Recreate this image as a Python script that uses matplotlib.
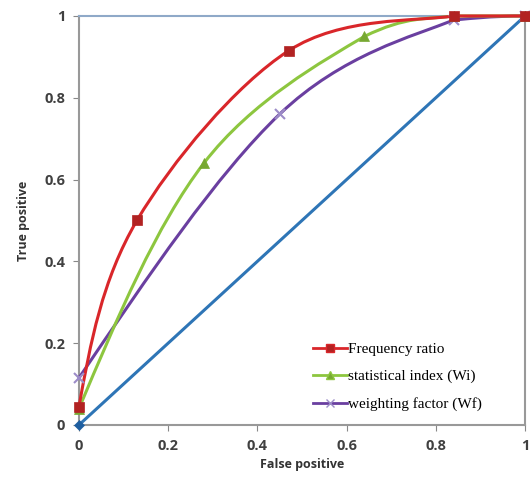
import numpy as np
import matplotlib
matplotlib.use("Agg")
import matplotlib.pyplot as plt
from matplotlib.path import Path
from matplotlib.patches import PathPatch
from matplotlib.lines import Line2D

fr_x = [0, 0.13, 0.47, 0.84, 1.0]
fr_y = [0.045, 0.50, 0.915, 1.0, 1.0]
si_x = [0, 0.28, 0.64, 0.84, 1.0]
si_y = [0.04, 0.64, 0.95, 1.0, 1.0]
wf_x = [0, 0.45, 0.84, 1.0]
wf_y = [0.115, 0.76, 0.99, 1.0]
ref_x = [0, 1]
ref_y = [0, 1]

labels = ["Frequency ratio", "statistical index (Wi)", "weighting factor (Wf)"]
ticks = [0, 0.2, 0.4, 0.6, 0.8, 1]
tick_labels = ["0", "0.2", "0.4", "0.6", "0.8", "1"]

fig = plt.figure(figsize=(5.3, 4.84), dpi=100)
ax = fig.add_axes([0.149, 0.122, 0.8416, 0.845])


def smooth_path(xs, ys):
    P = np.column_stack([xs, ys]).astype(float)
    n = len(P)
    if n == 2:
        return Path(P, [Path.MOVETO, Path.LINETO])
    segs = []
    for i in range(n - 1):
        c1 = P[i] + (P[i + 1] - P[i - 1]) / 6.0 if i > 0 else None
        c2 = P[i + 1] - (P[i + 2] - P[i]) / 6.0 if i + 2 < n else None
        segs.append([c1, c2])
    # quadratic-like end conditions
    segs[0][0] = P[0] + (segs[0][1] - P[0]) / 2.0
    segs[-1][1] = P[-1] + (segs[-1][0] - P[-1]) / 2.0
    verts = [P[0]]
    codes = [Path.MOVETO]
    for i, (c1, c2) in enumerate(segs):
        lo = min(P[i][1], P[i + 1][1])
        hi = max(P[i][1], P[i + 1][1])
        c1 = np.array([c1[0], np.clip(c1[1], lo, hi)])
        c2 = np.array([c2[0], np.clip(c2[1], lo, hi)])
        verts += [c1, c2, P[i + 1]]
        codes += [Path.CURVE4] * 3
    return Path(verts, codes)


series = [
    (ref_x, ref_y, "#2E75B6", "#1F5FA0", "D", 5),
    (wf_x, wf_y, "#6A3FA0", "#9C8CC8", "x", 7),
    (si_x, si_y, "#8DC63F", "#77A832", "^", 7),
    (fr_x, fr_y, "#D9262A", "#B22222", "s", 7),
]
for xs, ys, lc, mc, mk, ms in series:
    patch = PathPatch(smooth_path(xs, ys), facecolor="none", edgecolor=lc,
                      lw=2.2, clip_on=False, zorder=3)
    ax.add_patch(patch)
    ax.plot(xs, ys, linestyle="none", marker=mk, color=mc, markersize=ms,
            markeredgewidth=1.5 if mk == "x" else 0.5, clip_on=False, zorder=4)

ax.set_xlim(0, 1)
ax.set_ylim(0, 1)
ax.set_xticks(ticks)
ax.set_xticklabels(tick_labels)
ax.set_yticks(ticks)
ax.set_yticklabels(tick_labels)
for lab in ax.get_xticklabels() + ax.get_yticklabels():
    lab.set_fontfamily("Open Sans")
    lab.set_fontweight("bold")
    lab.set_fontsize(10.5)
    lab.set_color("#404040")
ax.tick_params(axis="both", length=4, color="#888888", pad=6)

for s in ["left", "bottom", "right"]:
    ax.spines[s].set_color("#999999")
    ax.spines[s].set_linewidth(1.5)
ax.spines["top"].set_color("#8FA9C8")
ax.spines["top"].set_linewidth(1.5)

ax.set_xlabel("False positive", fontfamily="Open Sans", fontweight="bold",
              fontsize=9, color="#333333", labelpad=4)
ax.set_ylabel("True positive", fontfamily="Open Sans", fontweight="bold",
              fontsize=9, color="#333333", labelpad=10)

handles = [
    Line2D([], [], color="#D9262A", lw=2, marker="s", markersize=6, markerfacecolor="#B22222"),
    Line2D([], [], color="#8DC63F", lw=2, marker="^", markersize=6, markerfacecolor="#77A832"),
    Line2D([], [], color="#6A3FA0", lw=2, marker="x", markersize=6, markeredgecolor="#9C8CC8"),
]
leg = ax.legend(handles, labels, loc="lower right", bbox_to_anchor=(0.935, 0.0),
                frameon=False, prop={"family": "Liberation Serif", "size": 11},
                handlelength=2.2, handletextpad=0.1, labelspacing=0.9)

fig.savefig("out.png", dpi=100)
